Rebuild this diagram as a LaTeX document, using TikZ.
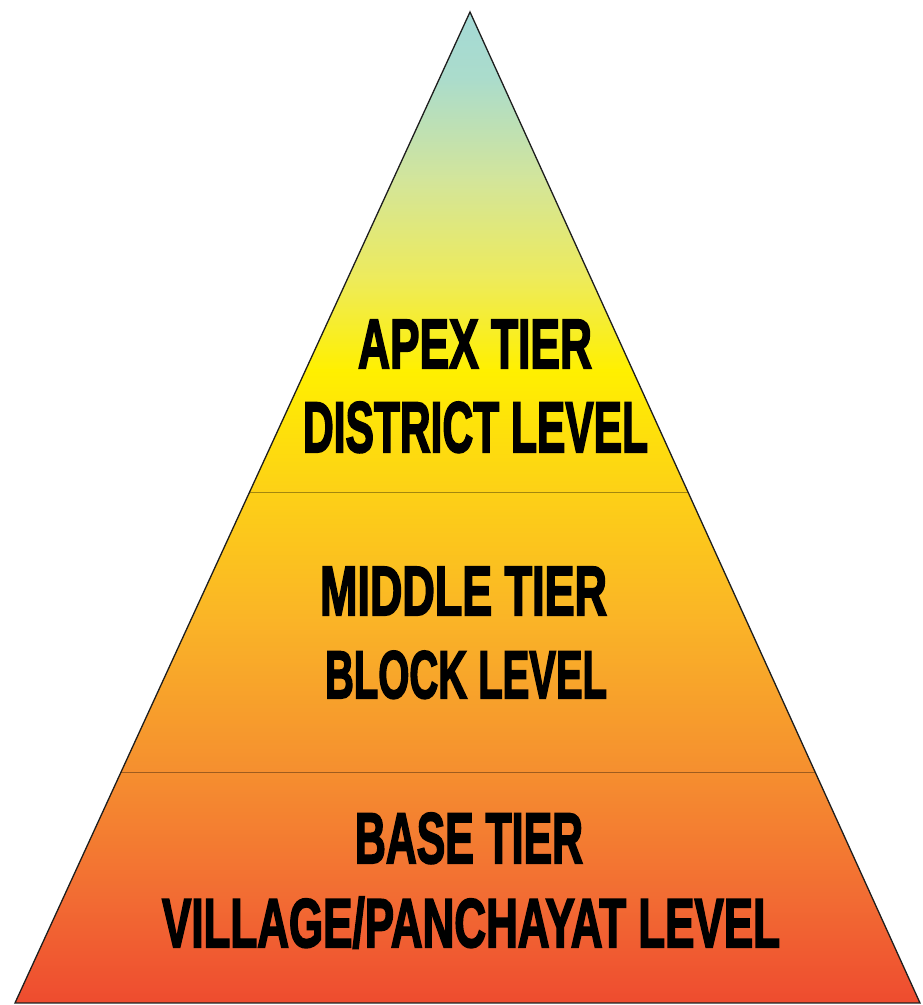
\documentclass[tikz,border=0pt]{standalone}
\usepackage{fontspec}
\usepackage{graphicx}
\newfontfamily\tierfont{Liberation Sans Bold}[FakeBold=3]
\usetikzlibrary{calc}

% pyramid fill colours, apex to base
\definecolor{s0}{HTML}{A3D9D8}
\definecolor{s1}{HTML}{ABDCCB}
\definecolor{s2}{HTML}{D3E59A}
\definecolor{s3}{HTML}{EEEB5A}
\definecolor{s4}{HTML}{FFF000}
\definecolor{s5}{HTML}{FDD116}
\definecolor{s6}{HTML}{FAB427}
\definecolor{s7}{HTML}{F58F2F}
\definecolor{s8}{HTML}{F26B33}
\definecolor{s9}{HTML}{EE4B2F}
\definecolor{edgeink}{HTML}{1E1E1E}

% condensed heavy caption line: width, cap height, text
\newcommand\tierline[3]{\resizebox{#1pt}{#2pt}{\tierfont #3}}

\tikzset{
  outline/.style={draw=edgeink, line width=1.3pt, line join=miter},
  divider/.style={draw=black, draw opacity=0.35, line width=1pt},
  tiertext/.style={anchor=base west, inner sep=0pt, outer sep=0pt, text=black}
}

\begin{document}
\begin{tikzpicture}[x=1pt,y=1pt]
\useasboundingbox (0,0) rectangle (922,1005);

\coordinate (top) at (470,993);
\coordinate (bl) at (15,2);
\coordinate (br) at (920,2);

% vertical colour ramp, clipped to the pyramid
\begin{scope}
  \clip (top) -- (bl) -- (br) -- cycle;
  \foreach \ya/\yb/\ca/\cb in {0/80/s0/s1, 80/180/s1/s2, 180/280/s2/s3,
      280/370/s3/s4, 370/490/s4/s5, 490/620/s5/s6, 620/770/s6/s7,
      770/900/s7/s8, 900/1005/s8/s9}
    \fill[top color=\ca, bottom color=\cb, draw=none]
      (0,{1005-\yb-0.6}) rectangle (922,{1005-\ya+0.6});
\end{scope}

% tier boundaries
\draw[divider] ($(top)!0.4844!(bl)$) -- ($(top)!0.4844!(br)$);
\draw[divider] ($(top)!0.7669!(bl)$) -- ($(top)!0.7669!(br)$);

% pyramid outline
\draw[outline] (top) -- (bl) -- (br) -- cycle;

% tier captions
\node[tiertext] (apex) at (358,{1005-368}) {\tierline{234}{48}{APEX TIER}};
\node[tiertext] (district) at (303,{1005-452}) {\tierline{345}{50}{DISTRICT LEVEL}};
\node[tiertext] (middle) at (320,{1005-615}) {\tierline{287}{48}{MIDDLE TIER}};
\node[tiertext] (block) at (325,{1005-698}) {\tierline{282}{47}{BLOCK LEVEL}};
\node[tiertext] (base) at (355,{1005-863}) {\tierline{228}{50}{BASE TIER}};
\node[tiertext] (village) at (162,{1005-947}) {\tierline{618}{50}{VILLAGE/PANCHAYAT LEVEL}};
\end{tikzpicture}
\end{document}
